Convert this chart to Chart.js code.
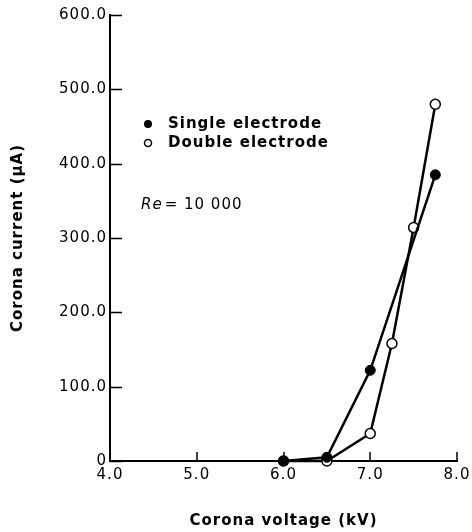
<!DOCTYPE html>
<html>
<head>
<meta charset="utf-8">
<script src="https://cdn.jsdelivr.net/npm/chart.js@4"></script>
<style>
  html, body { margin: 0; padding: 0; background: #ffffff; }
  #wrap { width: 472px; height: 532px; }
</style>
</head>
<body>
<div id="wrap"><canvas id="corona"></canvas></div>
<script>
// values (kV, uA)
const singleVoltage = [6.0, 6.5, 7.0, 7.75];
const singleCurrent = [0, 5, 122, 385];
const doubleVoltage = [6.0, 6.5, 7.0, 7.25, 7.5, 7.75];
const doubleCurrent = [0, 0, 37, 158, 314, 480];

const xTickValues = [4.0, 5.0, 6.0, 7.0, 8.0];
const yTickValues = [0, 100, 200, 300, 400, 500, 600];

const seriesNames = ['Single electrode', 'Double electrode'];
const reynolds = '10 000';

const FONT = "'DejaVu Sans', sans-serif";

const toPoints = (xs, ys) => xs.map((x, i) => ({ x: x, y: ys[i] }));

// the original has its tick marks pointing into the plot
const innerTicks = {
  id: 'innerTicks',
  afterDraw: (chart) => {
    const ctx = chart.ctx;
    const area = chart.chartArea;
    const xs = chart.scales.x;
    const ys = chart.scales.y;
    ctx.save();
    ctx.strokeStyle = '#000';
    ctx.lineWidth = 1.5;
    ctx.beginPath();
    xTickValues.forEach(v => {
      const px = Math.round(xs.getPixelForValue(v));
      ctx.moveTo(px, area.bottom);
      ctx.lineTo(px, area.bottom - 9);
    });
    yTickValues.forEach(v => {
      const py = Math.round(ys.getPixelForValue(v)) + 0.5;
      ctx.moveTo(area.left, py);
      ctx.lineTo(area.left + 12, py);
    });
    ctx.stroke();
    ctx.restore();
  }
};

// legend + Re note drawn inside the plot, like the original
const insideNotes = {
  id: 'insideNotes',
  beforeDraw: (chart) => {
    chart.ctx.letterSpacing = '1px';
  },
  afterDatasetsDraw: (chart) => {
    const ctx = chart.ctx;
    const area = chart.chartArea;
    ctx.save();
    ctx.letterSpacing = '1px';
    ctx.fillStyle = '#000';
    ctx.strokeStyle = '#000';
    ctx.textBaseline = 'middle';
    ctx.font = 'bold 15px ' + FONT;

    const mx = area.left + 38;
    const tx = area.left + 58;
    const rows = [area.top + 109, area.top + 128];

    // filled marker
    ctx.beginPath();
    ctx.arc(mx, rows[0], 4, 0, Math.PI * 2);
    ctx.fill();
    ctx.fillText(seriesNames[0], tx, rows[0]);

    // open marker
    ctx.beginPath();
    ctx.lineWidth = 1.5;
    ctx.arc(mx, rows[1], 3.5, 0, Math.PI * 2);
    ctx.stroke();
    ctx.fillText(seriesNames[1], tx, rows[1]);

    // Re = 10 000
    const ry = area.top + 190;
    ctx.font = 'italic 15px ' + FONT;
    ctx.fillText('Re', area.left + 31, ry);
    const w = ctx.measureText('Re').width;
    ctx.font = '15px ' + FONT;
    ctx.fillText('= ' + reynolds, area.left + 33 + w, ry);
    ctx.restore();
  }
};

const chart = new Chart(document.getElementById('corona'), {
  type: 'scatter',
  data: {
    datasets: [{
      label: seriesNames[0],
      data: toPoints(singleVoltage, singleCurrent),
      showLine: true,
      borderColor: '#000',
      borderWidth: 2.5,
      backgroundColor: '#000',
      pointRadius: 5,
      pointBorderWidth: 1,
      pointBorderColor: '#000',
      pointBackgroundColor: '#000',
      clip: false
    }, {
      label: seriesNames[1],
      data: toPoints(doubleVoltage, doubleCurrent),
      showLine: true,
      borderColor: '#000',
      borderWidth: 2.5,
      backgroundColor: '#fff',
      pointRadius: 5,
      pointBorderWidth: 1.5,
      pointBorderColor: '#000',
      pointBackgroundColor: '#fff',
      clip: false
    }]
  },
  options: {
    responsive: true,
    maintainAspectRatio: false,
    animation: false,
    events: [],
    layout: { padding: { top: 15, right: 15, bottom: 0, left: 0 } },
    plugins: {
      legend: { display: false },
      tooltip: { enabled: false }
    },
    scales: {
      x: {
        type: 'linear',
        min: 4,
        max: 8,
        afterBuildTicks: (scale) => {
          scale.ticks = xTickValues.map(v => ({ value: v }));
        },
        afterFit: (scale) => {
          scale.height = 71;
          scale.paddingLeft = 0;
          scale.paddingRight = 0;
        },
        border: { display: true, color: '#000', width: 2 },
        grid: { drawOnChartArea: false, drawTicks: false },
        ticks: {
          color: '#000',
          padding: 5,
          maxRotation: 0,
          font: { family: FONT, size: 15 },
          callback: (v) => Number(v).toFixed(1)
        },
        title: {
          display: true,
          text: 'Corona voltage (kV)',
          color: '#000',
          font: { family: FONT, size: 15, weight: 'bold' },
          padding: { top: 0, bottom: 2 }
        }
      },
      y: {
        type: 'linear',
        min: 0,
        max: 600,
        afterBuildTicks: (scale) => {
          scale.ticks = yTickValues.map(v => ({ value: v }));
        },
        afterFit: (scale) => {
          scale.width = 110;
          scale.paddingTop = 0;
          scale.paddingBottom = 0;
        },
        border: { display: true, color: '#000', width: 2 },
        grid: { drawOnChartArea: false, drawTicks: false },
        ticks: {
          color: '#000',
          padding: 3,
          font: { family: FONT, size: 15 },
          callback: (v) => v === 0 ? '0' : Number(v).toFixed(1)
        },
        title: {
          display: true,
          text: 'Corona current (\u03bcA)',
          color: '#000',
          font: { family: FONT, size: 15, weight: 'bold' },
          padding: { top: 9, bottom: 0 }
        }
      }
    }
  },
  plugins: [innerTicks, insideNotes]
});
</script>
</body>
</html>
